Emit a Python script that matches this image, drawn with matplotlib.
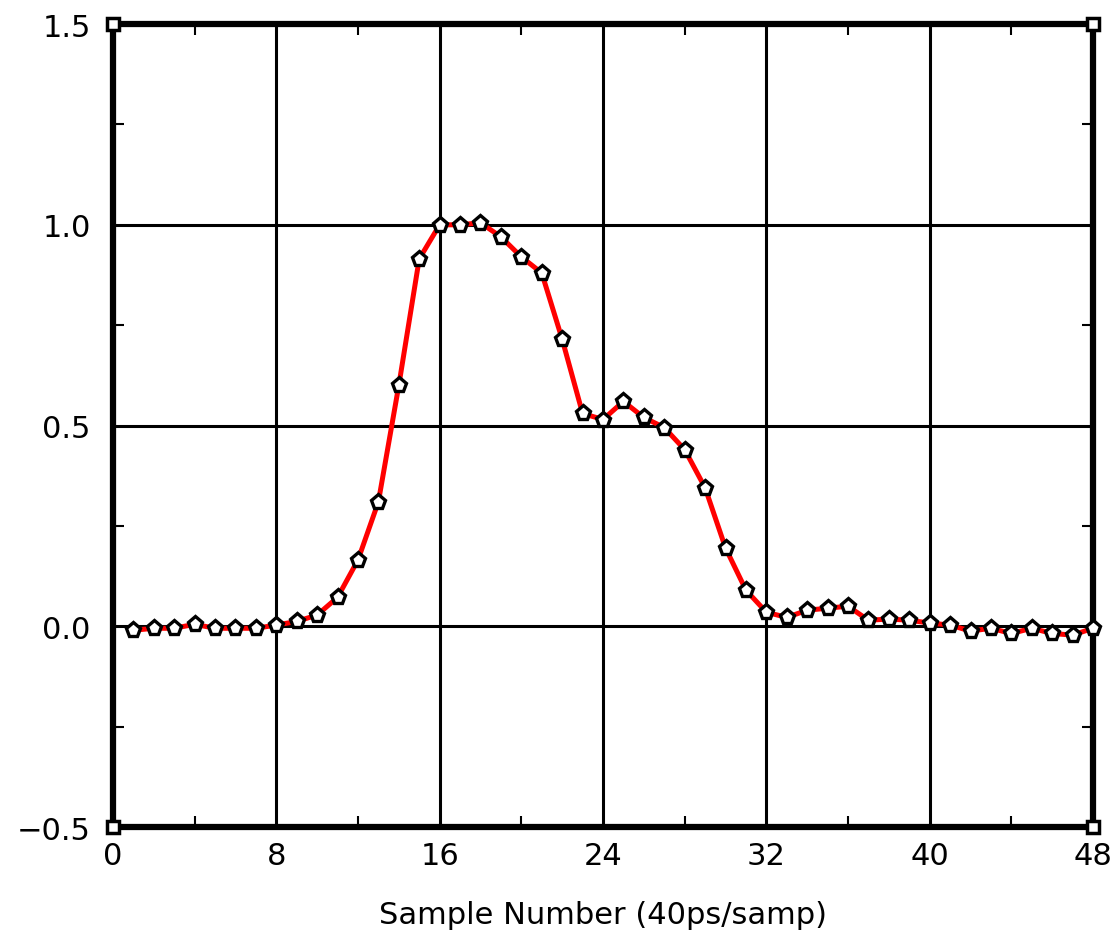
import matplotlib.pyplot as plt
import numpy as np

samples = list(range(1, 49))
amplitude = [-0.01, -0.005, -0.005, 0.005, -0.005, -0.005, -0.005, 0.003,
             0.012, 0.028, 0.072, 0.165, 0.31, 0.6, 0.915, 1.0,
             1.0, 1.005, 0.97, 0.92, 0.88, 0.715, 0.53, 0.515,
             0.56, 0.52, 0.495, 0.44, 0.345, 0.195, 0.09, 0.035,
             0.022, 0.04, 0.045, 0.05, 0.015, 0.018, 0.015, 0.008,
             0.003, -0.012, -0.005, -0.018, -0.005, -0.018, -0.022, -0.005]

x_ticks = [0, 8, 16, 24, 32, 40, 48]
y_ticks = [-0.5, 0.0, 0.5, 1.0, 1.5]
y_labels = ['\u22120.5', '0.0', '0.5', '1.0', '1.5']

fig = plt.figure(figsize=(11.15, 9.45), dpi=100)
ax = fig.add_axes([0.1013, 0.1238, 0.8790, 0.8497])

ax.set_xlim(0, 48)
ax.set_ylim(-0.5, 1.5)

# grid lines
for gx in x_ticks[1:-1]:
    ax.axvline(gx, color='black', linewidth=2.2, zorder=1)
for gy in y_ticks[1:-1]:
    ax.axhline(gy, color='black', linewidth=2.2, zorder=1)

ax.plot(samples, amplitude, color='red', linewidth=3.6, zorder=2)
ax.plot(samples, amplitude, linestyle='none', marker='p', markersize=11,
        markerfacecolor='white', markeredgecolor='black', markeredgewidth=2.4,
        zorder=3, clip_on=False)

for s in ax.spines.values():
    s.set_linewidth(4.5)

ax.set_xticks(x_ticks)
ax.set_yticks(y_ticks)
ax.set_yticklabels(y_labels)
ax.set_xticks([4, 12, 20, 28, 36, 44], minor=True)
ax.set_yticks([-0.25, 0.25, 0.75, 1.25], minor=True)
ax.tick_params(which='major', length=0, labelsize=22)
ax.tick_params(axis='x', which='major', pad=10)
ax.tick_params(axis='y', which='major', pad=16)
ax.tick_params(which='minor', direction='in', length=8, width=1.5,
               top=True, right=True)

# corner squares
ax.plot([0, 48, 0, 48], [-0.5, -0.5, 1.5, 1.5], linestyle='none', marker='s',
        markersize=9, markerfacecolor='white', markeredgecolor='black',
        markeredgewidth=2.5, clip_on=False, zorder=5)

ax.set_xlabel('Sample Number (40ps/samp)', fontsize=22, labelpad=22)

fig.savefig('out.png', dpi=100)
